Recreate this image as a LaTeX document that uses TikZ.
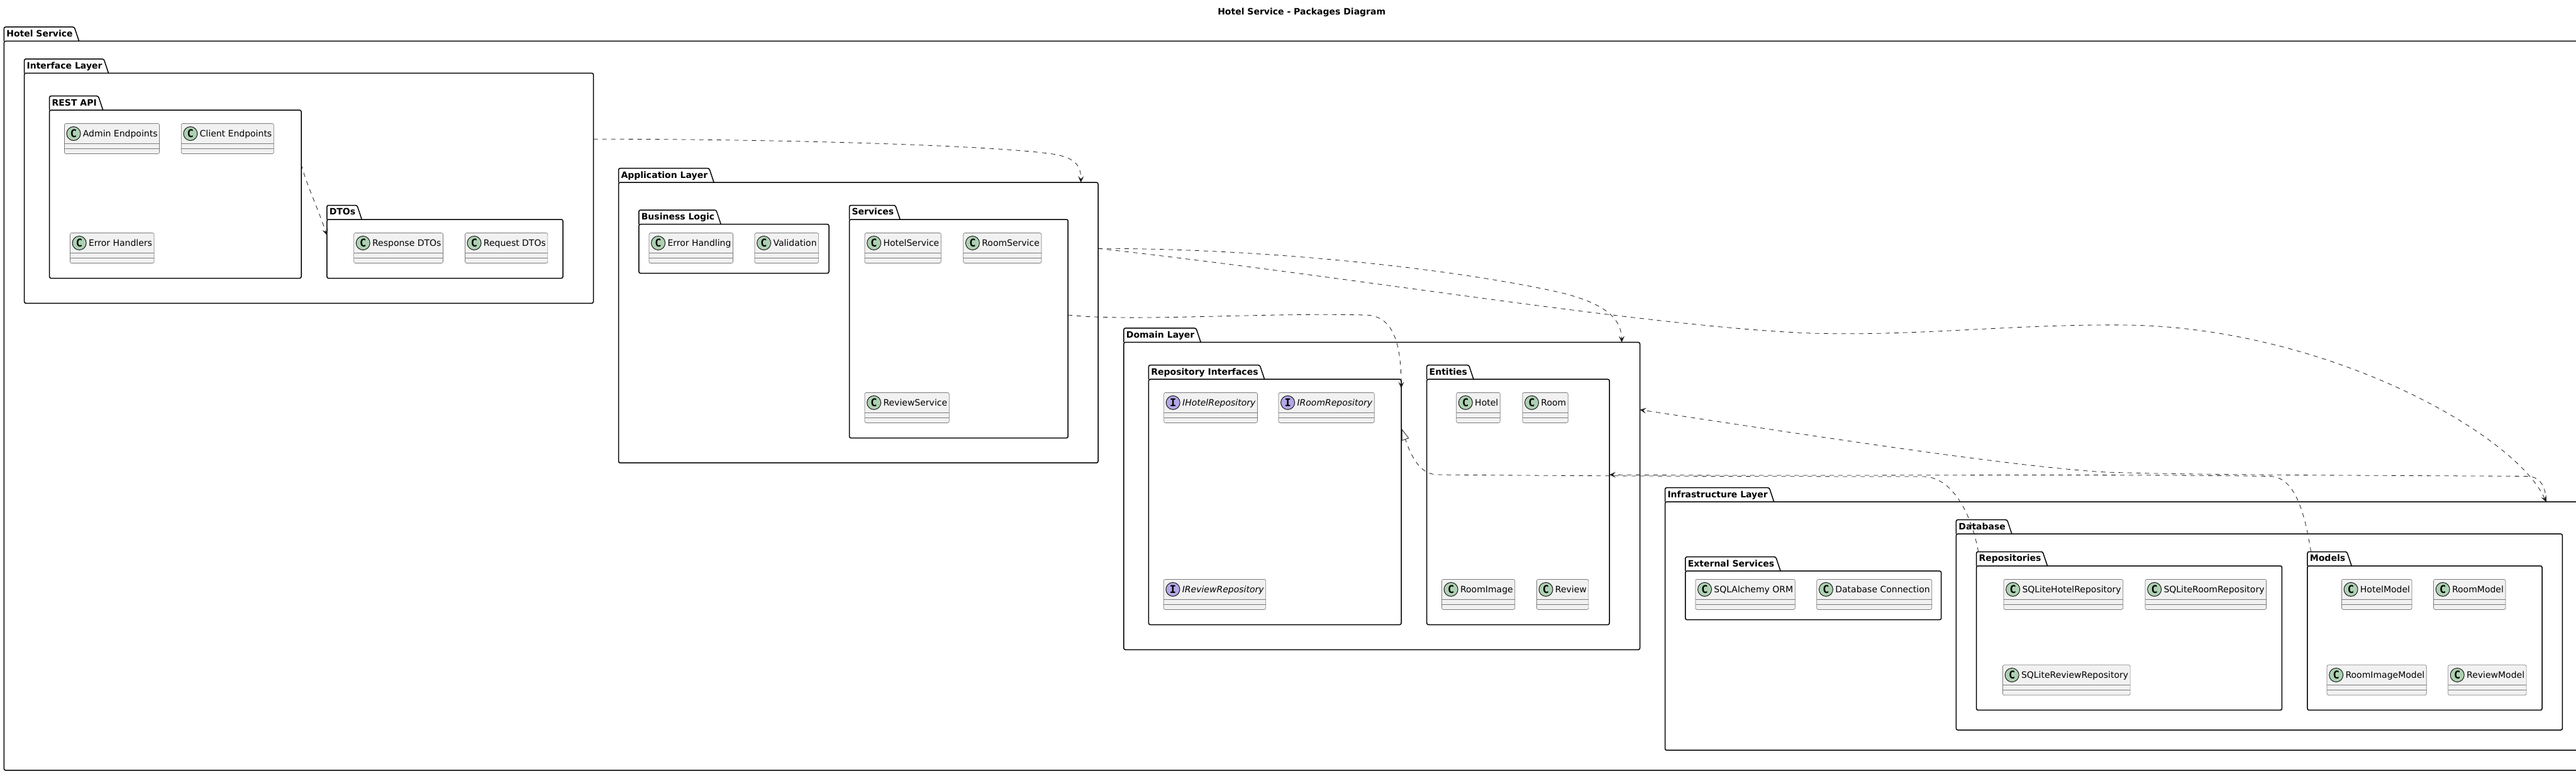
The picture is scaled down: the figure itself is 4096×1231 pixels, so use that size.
\documentclass[tikz,border=0pt]{standalone}
\usepackage{fontspec}
\setmainfont{DejaVu Sans}
\newfontfamily\spotfont{DejaVu Sans Mono}
\usetikzlibrary{positioning,arrows.meta}
\definecolor{umlline}{HTML}{181818}
\definecolor{clsborder}{HTML}{7A7A7A}
\definecolor{clsfill}{HTML}{F1F1F1}
\definecolor{spotgreen}{HTML}{ADD1B2}
\definecolor{spotpurple}{HTML}{B4A7E5}
\newcommand{\clsnode}[5][C]{
	\node[clsbox] (#2) at (#3,#4) {#5};
	\node[spot#1] (#2spot) at ([xshift=14.6pt,yshift=-16pt]#2.north west) {#1};
	\draw[clsline] ([yshift=-32pt]#2.north west) -- ([yshift=-32pt]#2.north east);
	\draw[clsline] ([yshift=-40pt]#2.north west) -- ([yshift=-40pt]#2.north east);
}
\begin{document}
\begin{tikzpicture}[x=1pt, y=-1pt,
	base/.style = {font=\fontsize{14}{16}\selectfont},
	pkg/.style = {draw=black, line width=1.5pt, rounded corners=2.5pt, anchor=north west, inner sep=0pt, outer sep=0pt},
	pkgtab/.style = {base, font=\fontsize{14}{16}\selectfont\bfseries, inner xsep=2.5pt, inner ysep=0pt, outer sep=0pt, text height=15.3pt, text depth=7.2pt, execute at begin node={\hspace*{1.5pt}},
		append after command={\pgfextra{\let\lastpkg\tikzlastnode
			\draw[line width=1.5pt, rounded corners=2.5pt] (\lastpkg.south west) |- (\lastpkg.north east) -- ([xshift=7.5pt]\lastpkg.south east);}}},
	clsbox/.style = {base, draw=clsborder, fill=clsfill, line width=0.7pt, rounded corners=2.5pt, anchor=north west, inner xsep=3pt, inner ysep=0pt, outer sep=0pt, text height=20.7pt, text depth=27.3pt, execute at begin node={\hspace*{26.5pt}}},
	clsline/.style = {draw=clsborder, line width=0.7pt},
	spotC/.style = {circle, draw=umlline, fill=spotgreen, line width=1pt, minimum size=22pt, inner sep=0pt, font=\fontsize{17}{17}\spotfont\bfseries},
	spotI/.style = {spotC, fill=spotpurple},
	dep/.style = {draw=umlline, line width=0.8pt, dash pattern=on 7pt off 7pt, -{Stealth[length=10pt, width=9pt, inset=4.5pt, umlline]}},
	realize/.style = {draw=umlline, line width=0.8pt, dash pattern=on 7pt off 7pt, -{Triangle[open, length=18pt, width=12pt, fill=white]}}]
	\path[use as bounding box, fill=white] (0,0) rectangle (4096,1231);
	\node[font=\fontsize{14}{16}\selectfont\bfseries, anchor=base] (title) at (2069.7,23.2) {Hotel Service - Packages Diagram};

	\node[pkg, minimum width=4200, minimum height=1159.5] (hotel) at (6.3,65.5) {};
	\node[pkgtab] (hoteltab) [above right=0pt of hotel.north west] {Hotel Service};

	\node[pkg, minimum width=904.9, minimum height=366] (interface) at (38.6,116.3) {};
	\node[pkgtab] (interfacetab) [above right=0pt of interface.north west] {Interface Layer};
	\node[pkg, minimum width=400.4, minimum height=267.3] (restapi) at (78.6,175.2) {};
	\node[pkgtab] (restapitab) [above right=0pt of restapi.north west] {REST API};
	\node[pkg, minimum width=375.2, minimum height=93.5] (dtos) at (519.8,349) {};
	\node[pkgtab] (dtostab) [above right=0pt of dtos.north west] {DTOs};

	\node[pkg, minimum width=762.5, minimum height=446] (application) at (983.5,290.2) {};
	\node[pkgtab] (applicationtab) [above right=0pt of application.north west] {Application Layer};
	\node[pkg, minimum width=302.2, minimum height=77.9] (business) at (1015.8,356.6) {};
	\node[pkgtab] (businesstab) [above right=0pt of business.north west] {Business Logic};
	\node[pkg, minimum width=347.6, minimum height=347.7] (services) at (1350.6,349) {};
	\node[pkgtab] (servicestab) [above right=0pt of services.north west] {Services};

	\node[pkg, minimum width=820.6, minimum height=488.9] (domain) at (1786.9,544.4) {};
	\node[pkgtab] (domaintab) [above right=0pt of domain.north west] {Domain Layer};
	\node[pkg, minimum width=401.6, minimum height=390.3] (repoif) at (1826.4,603.2) {};
	\node[pkgtab] (repoiftab) [above right=0pt of repoif.north west] {Repository Interfaces};
	\node[pkg, minimum width=290.3, minimum height=390.3] (entities) at (2268.7,603.2) {};
	\node[pkgtab] (entitiestab) [above right=0pt of entities.north west] {Entities};

	\node[pkg, minimum width=1500, minimum height=395] (infra) at (2647.5,798.2) {};
	\node[pkgtab] (infratab) [above right=0pt of infra.north west] {Infrastructure Layer};
	\node[pkg, minimum width=406.8, minimum height=77.4] (external) at (2679.8,908.2) {};
	\node[pkgtab] (externaltab) [above right=0pt of external.north west] {External Services};
	\node[pkg, minimum width=963.9, minimum height=311.8] (database) at (3110.4,849.2) {};
	\node[pkgtab] (databasetab) [above right=0pt of database.north west] {Database};
	\node[pkg, minimum width=485.8, minimum height=229.4] (repos) at (3142.6,900) {};
	\node[pkgtab] (repostab) [above right=0pt of repos.north west] {Repositories};
	\node[pkg, minimum width=373.1, minimum height=229.4] (models) at (3668.9,900) {};
	\node[pkgtab] (modelstab) [above right=0pt of models.north west] {Models};

	\clsnode{adminep}{102.4}{196.5}{Admin Endpoints}
	\clsnode{clientep}{288.2}{196.5}{Client Endpoints}
	\clsnode{errhandlers}{111.5}{370.5}{Error Handlers}
	\clsnode{responsedto}{562.6}{370.5}{Response DTOs}
	\clsnode{requestdto}{739.4}{370.5}{Request DTOs}
	\clsnode{errhandling}{1032}{370.5}{Error Handling}
	\clsnode{validation}{1200}{370.5}{Validation}
	\clsnode{hotelsvc}{1375}{370.5}{HotelService}
	\clsnode{roomsvc}{1531.8}{370.5}{RoomService}
	\clsnode{reviewsvc}{1375}{624.4}{ReviewService}
	\clsnode[I]{ihotelrepo}{1850.6}{624.4}{\itshape IHotelRepository}
	\clsnode[I]{iroomrepo}{2033}{624.4}{\itshape IRoomRepository}
	\clsnode[I]{ireviewrepo}{1850.3}{921.4}{\itshape IReviewRepository}
	\clsnode{hotelent}{2315.7}{624.4}{Hotel}
	\clsnode{rooment}{2420.9}{624.4}{Room}
	\clsnode{roomimageent}{2292.5}{921.4}{RoomImage}
	\clsnode{reviewent}{2443.4}{921.4}{Review}
	\clsnode{sqlalchemy}{2695.9}{921.4}{SQLAlchemy ORM}
	\clsnode{dbconn}{2888.8}{921.4}{Database Connection}
	\clsnode{sqlitehotel}{3186}{921.4}{SQLiteHotelRepository}
	\clsnode{sqliteroom}{3411}{921.4}{SQLiteRoomRepository}
	\clsnode{sqlitereview}{3184.5}{1057.6}{SQLiteReviewRepository}
	\clsnode{hotelmodel}{3723.4}{921.4}{HotelModel}
	\clsnode{roommodel}{3869.5}{921.4}{RoomModel}
	\clsnode{roomimagemodel}{3700}{1057.6}{RoomImageModel}
	\clsnode{reviewmodel}{3892.6}{1057.6}{ReviewModel}

	\draw[dep] ([yshift=-105pt]interface.north east) .. controls (1250,221) and (1600,232) .. (1680,246) .. controls (1708,252) and (1719,262) .. ([xshift=-27.4pt]application.north east);
	\draw[dep] ([yshift=-86pt]restapi.north east) .. controls (486,290) and (505,330) .. ([yshift=-25pt]dtos.north west);
	\draw[dep] ([yshift=-105pt]application.north east) .. controls (2000,395) and (2300,425) .. (2480,465) .. controls (2550,482) and (2578,505) .. ([xshift=-28.8pt]domain.north east);
	\draw[dep] ([yshift=-105pt]application.north east) .. controls (2150,440) and (2620,520) .. (2880,530) .. controls (3050,535) and (3200,515) .. (3384,517) .. controls (3700,522) and (4000,690) .. ([xshift=1401pt]infra.north west);
	\draw[dep] ([yshift=-152pt]services.north east) .. controls (1800,512) and (2000,497) .. (2170,501) .. controls (2215,501) and (2228,545) .. ([yshift=-14.1pt]repoif.north east);
	\draw[realize] ([xshift=3pt]repostab.north west) .. controls (3135,818) and (3105,760) .. (3060,758) .. controls (2700,758) and (2400,756) .. (2285,755) .. controls (2255,754) and (2242,720) .. ([yshift=-78.8pt,xshift=0.7pt]repoif.north east);
	\draw[dep] ([xshift=1401pt]infra.north west) .. controls (4048,778) and (4042,759) .. (4020,757.5) .. controls (3800,756) and (3500,756) .. (3349.5,751) .. controls (3200,743) and (2850,688) .. ([yshift=-107.3pt]domain.north east);
	\draw[dep] ([xshift=5.6pt]modelstab.north west) .. controls (3665,818) and (3650,759) .. (3610,757.5) .. controls (3300,753) and (2900,758) .. ([yshift=-151.8pt]entities.north east);
\end{tikzpicture}
\end{document}
